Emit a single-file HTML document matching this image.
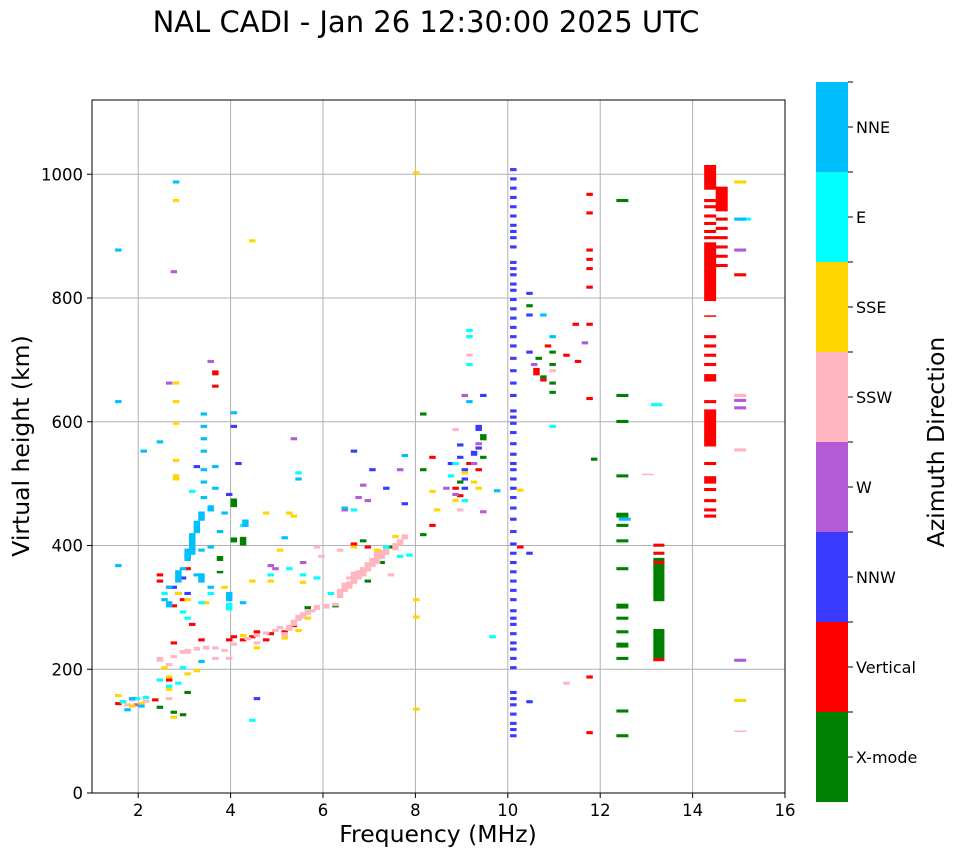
<!DOCTYPE html>
<html><head><meta charset="utf-8"><style>
body{margin:0;background:#fff}
svg{display:block;font-family:"DejaVu Sans","Liberation Sans",sans-serif}
</style></head><body>
<svg id="chart" width="958" height="857" viewBox="0 0 958 857">
<text x="426" y="32" text-anchor="middle" font-size="29">NAL CADI - Jan 26 12:30:00 2025 UTC</text>
<g id="grid"></g>
<g id="marks"></g>
<rect x="92" y="100" width="693" height="693" fill="none" stroke="#000" stroke-width="1"/>
<g id="ticks"></g>
<text x="438" y="842" text-anchor="middle" font-size="23.5">Frequency (MHz)</text>
<text transform="translate(29,446) rotate(-90)" text-anchor="middle" font-size="23.5">Virtual height (km)</text>
<g id="cbar"></g>
<text transform="translate(944,442) rotate(-90)" text-anchor="middle" font-size="23.5">Azimuth Direction</text>
</svg>
<script>
const directions=["X-mode","Vertical","NNW","W","SSW","SSE","E","NNE"];
const dirColors=["#008000","#ff0000","#3a3aff","#b35bd6","#ffb6c1","#ffd700","#00ffff","#00bfff"];
const xTicks=[2,4,6,8,10,12,14,16];
const yTicks=[0,200,400,600,800,1000];
// [freq MHz, height km, extent km]
const xmode=[[12.35,955],[12.35,640],[12.35,598],[12.35,510],[12.35,445,8],[12.35,430],[12.35,405],[12.35,360],[12.35,298,8],[12.35,280],[12.35,258],[12.35,235,8],[12.35,215],[12.35,130],[12.35,90],
[13.15,310,70],[13.15,215,50],[4.0,462,14],[4.2,400,14],[4.0,405,8],[3.7,375,8],[3.7,355,4],[10.4,785],[10.6,700],[10.7,670],[10.9,660],[10.9,645],[10.9,710],[10.9,690],[8.1,610],[8.1,520],[8.1,415],[9.4,570,10],[9.4,540],[8.9,500],[6.2,300],[6.9,340],[7.2,370],[7.4,395],[6.8,405],[2.4,136],[2.7,128],[2.9,124],[5.6,297],[3.0,160],[11.8,537]];
const vertical=[[14.25,975,40],[14.25,955],[14.25,945],[14.25,930],[14.25,918],[14.25,905],[14.25,895],[14.25,795,95],[14.25,770,2],[14.25,735],[14.25,720],[14.25,705],[14.25,690],[14.25,665,12],[14.25,630],[14.25,560,60],[14.25,530],[14.25,500,12],[14.25,488],[14.25,470],[14.25,455],[14.25,445],
[14.5,940,40],[14.5,925],[14.5,910],[14.5,895],[14.5,880],[14.5,865],[14.5,850],[14.9,835],
[11.7,965],[11.7,935],[11.7,875],[11.7,860],[11.7,845],[11.7,815],[11.7,755],[11.7,635],[11.7,185],[11.7,95],[11.4,755],[11.45,695],[11.2,705],[10.55,675,12],[10.8,720],[10.7,665],[10.2,395],[13.15,398],[13.15,385],[13.15,370],[13.15,213],
[3.6,675,8],[3.6,655],[2.4,350],[2.4,340],[2.6,330],[2.8,320],[2.9,310],[3.0,380],[3.1,390],[3.0,360],[2.7,300],[3.1,270],[3.3,245],[3.9,245],[4.0,250],[4.5,258],[4.4,250],[4.8,255],[5.1,258],[4.7,245],[5.3,268],[6.6,400],[6.9,395],[8.3,540],[8.3,430],[8.8,490],[8.9,478],[9.3,520],[9.1,530],[2.7,240],[2.6,180],[2.3,148],[1.5,142],[4.2,245]];
const nnw=[[10.05,1005],[10.05,990],[10.05,975],[10.05,960],[10.05,945],[10.05,930],[10.05,915],[10.05,905],[10.05,895],[10.05,880],[10.05,855],[10.05,845],[10.05,835],[10.05,820],[10.05,810],[10.05,795],[10.05,780],[10.05,765],[10.05,750],[10.05,735],[10.05,720],[10.05,700],[10.05,680],[10.05,660],[10.05,640],[10.05,615],[10.05,605],[10.05,595],[10.05,580],[10.05,562],[10.05,545],[10.05,530],[10.05,520],[10.05,505],[10.05,490],[10.05,475],[10.05,458],[10.05,440],[10.05,420],[10.05,400],[10.05,385],[10.05,370],[10.05,355],[10.05,340],[10.05,325],[10.05,310],[10.05,292],[10.05,280],[10.05,270],[10.05,255],[10.05,240],[10.05,230],[10.05,215],[10.05,200],[10.05,160],[10.05,150],[10.05,140],[10.05,125],[10.05,110],[10.05,100],[10.05,90],
[10.4,805],[10.4,770],[10.4,710],[10.4,385],[10.4,145],[9.0,520],[9.0,490],[9.0,505],[9.2,545,8],[8.9,560],[9.3,585,10],[9.3,555],[9.4,640],[8.7,530],[8.9,540],[3.9,480],[4.1,530],[4.0,590],[6.6,550],[7.0,520],[7.3,490],[7.7,465],[3.2,525],[2.7,330],[3.0,320],[4.5,150],[2.9,345]];
const wdir=[[14.9,875],[14.9,632],[14.9,620],[14.9,212],[11.6,725],[9.0,640],[8.8,480],[9.2,530],[9.4,452],[9.3,562],[6.8,495],[6.9,470],[7.6,520],[6.4,455],[6.7,475],[3.5,695],[2.6,660],[2.7,840],[5.3,570],[5.5,370],[5.8,345],[4.8,365],[4.9,360],[1.9,140],[8.6,490],[10.5,690]];
const ssw=[[2.4,212,8],[2.6,205],[2.7,218],[2.9,225,6],[3.0,228],[3.2,230,6],[3.4,232,6],[3.6,232],[3.6,215],[3.9,215],[4.0,238],[4.3,247],[4.5,252,6],[4.7,256],[4.9,260],[5.0,265],[5.1,252,8],[5.2,262,10],[5.3,270,10],[5.4,278,10],[5.5,282,10],[5.6,288,8],[5.7,292],[5.8,296,8],[6.0,298,8],[6.2,302],[6.3,315,15],[6.4,325,15],[6.5,330,12],[6.6,338,20],[6.7,345,15],[6.8,350,15],[6.9,358,15],[7.0,365,15],[7.1,370,20],[7.2,378,15],[7.3,385,15],[7.5,392,12],[7.6,400,10],[7.7,410,8],[6.5,345],[7.4,350],[6.3,390],[5.9,380],[5.8,395],
[14.9,640],[14.9,552],[14.9,100,1],[12.9,515,1],[11.2,175],[10.9,680],[9.1,705],[9.1,735],[8.8,585],[8.9,455],[3.0,225],[3.8,228],[1.7,140],[2.1,146],[1.8,148],[2.6,150],[4.5,240]];
const sse=[[14.9,985],[14.9,147],[7.95,1000],[7.95,310],[7.95,282],[7.95,133],[2.75,955],[2.75,660],[2.75,630],[2.75,595],[2.75,535],[2.75,505,10],[4.4,890],[8.3,485],[8.4,455],[8.8,470],[9.0,515],[9.2,500],[9.3,490],[10.2,487],[4.7,450],[5.3,445],[5.2,450],[3.0,310],[2.8,320],[3.8,330],[3.4,305],[3.0,190],[2.6,185],[2.5,200],[2.6,165],[3.2,195],[4.2,252],[4.5,232],[5.1,248],[5.4,260],[5.6,280],[6.6,395],[7.1,390],[7.5,412],[5.0,390],[1.6,145],[1.8,138],[2.0,142],[1.5,155],[2.7,120],[4.4,340],[4.8,340],[5.5,338]];
const e=[[13.1,625],[10.9,590],[9.1,745],[9.1,735],[9.1,690],[8.8,530],[8.7,510],[9.0,470],[7.8,382],[7.6,380],[7.3,395],[5.8,345],[5.5,350],[5.2,360],[4.8,350],[4.2,430],[3.9,295,12],[3.5,320],[3.3,305],[3.0,280],[2.9,290],[2.5,320],[2.9,200],[2.8,175],[2.6,170],[1.6,145],[1.9,150],[2.1,152],[6.1,320],[6.6,455],[5.4,515],[9.6,250],[3.1,485],[4.4,115],[15.0,925],[2.4,180]];
const nne=[[1.5,875],[1.5,630],[1.5,365],[2.05,550],[2.4,565],[2.75,985],[3.35,610],[3.35,590],[3.35,570],[3.35,550],[3.35,520],[3.35,500],[3.35,475],[3.6,525],[3.6,490],[3.5,455,10],[3.8,450],[4.25,430,12],[3.3,440,15],[3.2,420,20],[3.1,390,30],[3.0,375,20],[3.3,390],[2.9,360],[2.8,340,20],[2.6,330],[2.5,310],[2.6,300,10],[3.2,350],[3.5,395],[3.7,420],[3.3,340,15],[3.5,330],[3.9,310,15],[4.2,305],[5.1,410],[6.4,458],[3.1,385],[7.7,543],[9.1,630],[9.7,486],[10.7,770],[10.9,735],[1.7,132],[2.0,138],[1.8,150],[3.3,210],[4.0,612],[5.4,505],[14.9,925],[12.4,440]];
const seriesList=[xmode,vertical,nnw,wdir,ssw,sse,e,nne];
const seriesNames=["x-mode","vertical","nnw","w","ssw","sse","e","nne"];

const NS="http://www.w3.org/2000/svg";
const X=f=>92+(f-1)*693/15;
const Y=h=>793-h*693/1120;
function mk(tag,attrs,parent){const el=document.createElementNS(NS,tag);for(const k in attrs)el.setAttribute(k,attrs[k]);parent.appendChild(el);return el;}
const grid=document.getElementById('grid'),ticks=document.getElementById('ticks'),marks=document.getElementById('marks'),cbar=document.getElementById('cbar');
xTicks.forEach(t=>{const x=X(t);
 if(t<16){const g=mk('line',{x1:x,x2:x,y1:100,y2:793,stroke:'#b0b0b0','stroke-width':1},grid);
 
 }
 mk('line',{x1:x,x2:x,y1:793,y2:798,stroke:'#000'},ticks);
 const tx=mk('text',{x:x,y:816,'text-anchor':'middle','font-size':16.5},ticks);tx.textContent=t;
 
 });
yTicks.forEach(t=>{const y=Y(t);
 if(t>0){const g=mk('line',{x1:92,x2:785,y1:y,y2:y,stroke:'#b0b0b0','stroke-width':1},grid);
 
 }
 mk('line',{x1:87,x2:92,y1:y,y2:y,stroke:'#000'},ticks);
 const tx=mk('text',{x:83,y:y+6,'text-anchor':'end','font-size':16.5},ticks);tx.textContent=t;
 
 });
seriesList.forEach((arr,i)=>{arr.forEach(p=>{const f=p[0],h=p[1],dh=p[2]||5;
 const w=f>=14?0.26:(f>=13?0.24:(f>=12?0.26:0.14));
 const r=mk('rect',{x:X(f),y:Y(h+dh),width:w*693/15,height:Math.max(1.5,dh*693/1120),fill:dirColors[i]},marks);
 
 });});
directions.forEach((d,i)=>{const y0=802-(i+1)*90;
 const r=mk('rect',{x:816,y:y0,width:32,height:90,fill:dirColors[i]},cbar);
 
 
 mk('line',{x1:848,x2:853,y1:y0+45,y2:y0+45,stroke:'#000'},cbar);
 mk('line',{x1:848,x2:853,y1:y0,y2:y0,stroke:'#000'},cbar);
 const tx=mk('text',{x:856,y:y0+51,'font-size':16},cbar);tx.textContent=d;
 
 });
</script>
</body></html>
